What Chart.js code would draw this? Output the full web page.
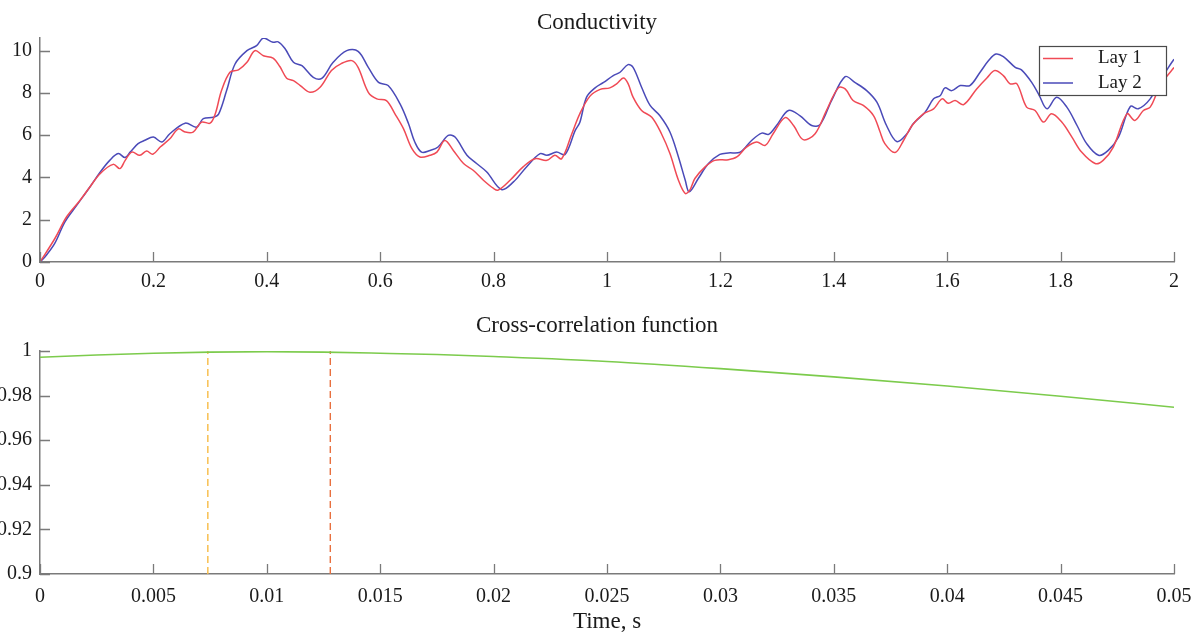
<!DOCTYPE html>
<html><head><meta charset="utf-8">
<script src="https://cdn.jsdelivr.net/npm/chart.js@4.4.1/dist/chart.umd.min.js"></script>
<style>
html,body{margin:0;padding:0;background:#fff;overflow:hidden;}
#c1{position:absolute;left:0;top:0;}
#c2{position:absolute;left:0;top:300px;}
</style></head><body>
<canvas id="c1" width="1194" height="300"></canvas>
<canvas id="c2" width="1194" height="341"></canvas>
<script>
// ---------- DATA ----------
const lay1T = [0,0.026,0.047,0.07,0.088,0.106,0.129,0.141,0.15,0.162,0.176,0.188,0.199,0.212,0.229,0.244,0.256,0.27,0.285,0.3,0.309,0.32,0.335,0.35,0.365,0.379,0.394,0.411,0.423,0.435,0.447,0.459,0.476,0.494,0.514,0.532,0.55,0.561,0.579,0.594,0.611,0.626,0.641,0.656,0.67,0.688,0.7,0.714,0.729,0.747,0.764,0.782,0.8,0.808,0.829,0.852,0.873,0.894,0.908,0.92,0.938,0.952,0.97,0.988,1.005,1.017,1.029,1.037,1.046,1.061,1.079,1.096,1.111,1.126,1.138,1.146,1.155,1.173,1.19,1.214,1.229,1.246,1.264,1.279,1.293,1.314,1.329,1.346,1.367,1.387,1.408,1.42,1.434,1.452,1.47,1.481,1.49,1.508,1.523,1.538,1.558,1.576,1.591,1.602,1.614,1.629,1.652,1.67,1.684,1.699,1.711,1.723,1.74,1.755,1.77,1.784,1.802,1.82,1.837,1.861,1.875,1.893,1.917,1.931,1.946,1.958,1.97,1.985,2.0];
const lay1V = [0,1.1,2.14,2.9,3.55,4.18,4.62,4.42,4.8,5.2,5.05,5.25,5.1,5.44,5.83,6.3,6.15,6.15,6.62,6.57,7.0,8.1,8.98,9.09,9.45,10.0,9.76,9.65,9.25,8.7,8.58,8.35,8.03,8.27,9.06,9.4,9.53,9.21,8.03,7.72,7.64,7.01,6.31,5.36,4.97,5.05,5.2,5.75,5.28,4.66,4.34,3.87,3.48,3.4,3.87,4.5,4.89,4.81,5.05,4.89,6.07,7.01,7.85,8.17,8.24,8.43,8.71,8.45,7.8,7.17,6.85,6.07,5.13,3.87,3.24,3.4,3.95,4.5,4.81,4.84,4.97,5.44,5.68,5.52,6.07,6.83,6.46,5.79,6.07,7.17,8.24,8.19,7.64,7.41,6.93,6.2,5.6,5.18,5.75,6.46,7.01,7.25,7.72,7.51,7.64,7.45,8.19,8.71,9.06,8.82,8.43,8.43,7.33,7.17,6.62,7.01,6.62,5.91,5.2,4.66,4.81,5.44,7.01,6.7,7.17,7.33,8.0,8.7,9.2];

const lay2T = [0,0.009,0.026,0.044,0.065,0.088,0.106,0.123,0.138,0.15,0.159,0.173,0.185,0.2,0.215,0.229,0.256,0.276,0.288,0.306,0.315,0.329,0.344,0.365,0.382,0.394,0.411,0.42,0.432,0.447,0.462,0.482,0.497,0.517,0.541,0.561,0.579,0.597,0.614,0.635,0.65,0.661,0.673,0.688,0.702,0.72,0.732,0.753,0.77,0.788,0.814,0.835,0.858,0.882,0.894,0.911,0.926,0.944,0.952,0.964,0.979,0.994,1.011,1.023,1.037,1.046,1.061,1.076,1.093,1.111,1.126,1.138,1.145,1.161,1.179,1.199,1.214,1.235,1.255,1.273,1.285,1.299,1.32,1.34,1.361,1.376,1.396,1.42,1.437,1.458,1.476,1.493,1.511,1.529,1.54,1.561,1.576,1.588,1.596,1.608,1.623,1.64,1.658,1.673,1.686,1.699,1.72,1.731,1.749,1.762,1.776,1.793,1.811,1.829,1.846,1.867,1.884,1.902,1.923,1.937,1.958,1.975,1.99,2.0];
const lay2V = [0,0.25,0.88,1.9,2.69,3.55,4.25,4.81,5.13,4.94,5.2,5.6,5.76,5.91,5.68,6.07,6.57,6.38,6.78,6.85,7.0,8.1,9.37,10.0,10.24,10.6,10.4,10.42,10.1,9.45,9.29,8.74,8.69,9.45,10.0,9.97,9.21,8.5,8.35,7.48,6.54,5.68,5.2,5.28,5.44,5.99,5.91,5.05,4.66,4.26,3.43,3.79,4.5,5.13,5.05,5.2,5.09,6.23,6.6,7.8,8.24,8.5,8.82,8.98,9.34,9.21,8.27,7.41,6.93,6.15,4.97,3.87,3.32,3.95,4.66,5.09,5.16,5.2,5.75,6.1,6.04,6.46,7.17,6.93,6.46,6.51,7.64,8.77,8.5,8.11,7.56,6.46,5.7,6.07,6.54,7.09,7.72,7.88,8.24,8.11,8.35,8.35,8.98,9.53,9.84,9.72,9.21,9.09,8.5,7.9,7.25,7.8,7.33,6.46,5.6,5.05,5.28,5.91,7.36,7.25,7.72,8.58,9.2,9.6];

const ccT = [0,0.0025,0.005,0.0075,0.01,0.0125,0.015,0.0175,0.02,0.025,0.03,0.035,0.04,0.045,0.05];
const ccV = [0.9972,0.9982,0.9990,0.9995,0.9997,0.9995,0.9990,0.9984,0.9975,0.9953,0.9921,0.9884,0.9843,0.9797,0.9748];
const markerT = [0.0074, 0.0128];
const markerRange = [0.9, 1.0];

const seriesNames = ['Lay 1', 'Lay 2'];
const xTicks1 = [0,0.2,0.4,0.6,0.8,1,1.2,1.4,1.6,1.8,2];
const xTickLabels1 = ['0','0.2','0.4','0.6','0.8','1','1.2','1.4','1.6','1.8','2'];
const yTicks1 = [0,2,4,6,8,10];
const yTickLabels1 = ['0','2','4','6','8','10'];
const xTicks2 = [0,0.005,0.01,0.015,0.02,0.025,0.03,0.035,0.04,0.045,0.05];
const xTickLabels2 = ['0','0.005','0.01','0.015','0.02','0.025','0.03','0.035','0.04','0.045','0.05'];
const yTicks2 = [0.9,0.92,0.94,0.96,0.98,1];
const yTickLabels2 = ['0.9','0.92','0.94','0.96','0.98','1'];

// ---------- STYLE ----------
const FONT = "'Liberation Serif','Times New Roman','DejaVu Serif',serif";
const AXIS = '#7a7a7a';
const TXT = '#1a1a1a';
const RED = '#f04a55';
const BLUE = '#4a4ab8';
const GREEN = '#7ccb4c';
const MARK_COLORS = ['#f7bb45', '#e8703f'];

const inwardTicks = {
  id: 'inwardTicks',
  afterDraw(chart) {
    const {ctx, chartArea: a, scales: {x, y}} = chart;
    ctx.save();
    ctx.strokeStyle = AXIS; ctx.lineWidth = 1.3;
    ctx.beginPath();
    x.ticks.forEach(t => { const p = Math.round(x.getPixelForValue(t.value)) + 0.5; ctx.moveTo(p, a.bottom); ctx.lineTo(p, a.bottom - 10); });
    y.ticks.forEach(t => { const p = Math.round(y.getPixelForValue(t.value)) + 0.5; ctx.moveTo(a.left, p); ctx.lineTo(a.left + 10, p); });
    ctx.stroke();
    ctx.restore();
  }
};

const legendBox = {
  id: 'legendBox',
  afterDraw(chart) {
    const {ctx, chartArea: a} = chart;
    const w = 127, h = 49;
    const x0 = a.right - 8 - w, y0 = a.top + 8;
    ctx.save();
    ctx.fillStyle = '#fff'; ctx.fillRect(x0, y0, w, h);
    ctx.strokeStyle = '#4a4a4a'; ctx.lineWidth = 1.2; ctx.strokeRect(x0 + 0.5, y0 + 0.5, w, h);
    chart.data.datasets.forEach((ds, i) => {
      const yy = y0 + 12.5 + i * 24.5;
      ctx.strokeStyle = ds.borderColor; ctx.lineWidth = 1.5;
      ctx.beginPath(); ctx.moveTo(x0 + 4, yy); ctx.lineTo(x0 + 34, yy); ctx.stroke();
      ctx.fillStyle = TXT; ctx.font = '19px ' + FONT; ctx.textBaseline = 'middle'; ctx.textAlign = 'left';
      ctx.fillText(ds.label, x0 + 59, yy);
    });
    ctx.restore();
  }
};

function xScale(min, max, ticks, labels, h, pad, title) {
  return {
    type: 'linear', min, max,
    afterBuildTicks: s => { s.ticks = ticks.map(v => ({value: v})); },
    afterFit: s => { s.height = h; s.paddingLeft = 0; s.paddingRight = 20; },
    grid: {display: false, drawTicks: false},
    border: {display: true, color: AXIS, width: 1.5},
    ticks: {font: {family: FONT, size: 20}, color: TXT, padding: pad, maxRotation: 0, autoSkip: false,
      callback: (v, i) => labels[i]},
    title: title ? {display: true, text: title, font: {family: FONT, size: 23}, color: TXT, padding: {top: 0, bottom: 5}} : {display: false}
  };
}
function yScale(min, max, ticks, labels) {
  return {
    type: 'linear', min, max,
    afterBuildTicks: s => { s.ticks = ticks.map(v => ({value: v})); },
    afterFit: s => { s.width = 40; s.paddingTop = 0; s.paddingBottom = 0; },
    grid: {display: false, drawTicks: false},
    border: {display: true, color: AXIS, width: 1.5},
    ticks: {font: {family: FONT, size: 20}, color: TXT, padding: 8, autoSkip: false,
      callback: (v, i) => labels[i]}
  };
}

const zip = (ts, vs) => ts.map((t, i) => ({x: t, y: vs[i]}));

new Chart(document.getElementById('c1'), {
  type: 'line',
  data: {datasets: [
    {label: seriesNames[0], data: zip(lay1T, lay1V), borderColor: RED, borderWidth: 1.5, pointRadius: 0, tension: 0.35, fill: false},
    {label: seriesNames[1], data: zip(lay2T, lay2V), borderColor: BLUE, borderWidth: 1.5, pointRadius: 0, tension: 0.35, fill: false}
  ]},
  options: {
    responsive: false, animation: false, events: [],
    layout: {padding: 0},
    plugins: {
      legend: {display: false}, tooltip: {enabled: false},
      title: {display: true, text: 'Conductivity', font: {family: FONT, size: 23, weight: 'normal', lineHeight: 1.2}, color: TXT, padding: {top: 9, bottom: 1.4}}
    },
    scales: {x: xScale(0, 2, xTicks1, xTickLabels1, 38, 8), y: yScale(0, 10.6, yTicks1, yTickLabels1)}
  },
  plugins: [inwardTicks, legendBox]
});

new Chart(document.getElementById('c2'), {
  type: 'line',
  data: {datasets: [
    {label: 'ccf', data: zip(ccT, ccV), borderColor: GREEN, borderWidth: 1.6, pointRadius: 0, cubicInterpolationMode: 'monotone', fill: false},
    ...markerT.map((t, i) => ({label: 'm' + i, data: markerRange.map(v => ({x: t, y: v})), borderColor: MARK_COLORS[i], borderWidth: 1.4, borderDash: [7, 4], pointRadius: 0, fill: false}))
  ]},
  options: {
    responsive: false, animation: false, events: [],
    layout: {padding: 0},
    plugins: {
      legend: {display: false}, tooltip: {enabled: false},
      title: {display: true, text: 'Cross-correlation function', font: {family: FONT, size: 23, weight: 'normal', lineHeight: 1.2}, color: TXT, padding: {top: 12, bottom: 11.4}}
    },
    scales: {x: xScale(0, 0.05, xTicks2, xTickLabels2, 67, 11, 'Time, s'), y: yScale(0.9, 1, yTicks2, yTickLabels2)}
  },
  plugins: [inwardTicks]
});
</script>
</body></html>
